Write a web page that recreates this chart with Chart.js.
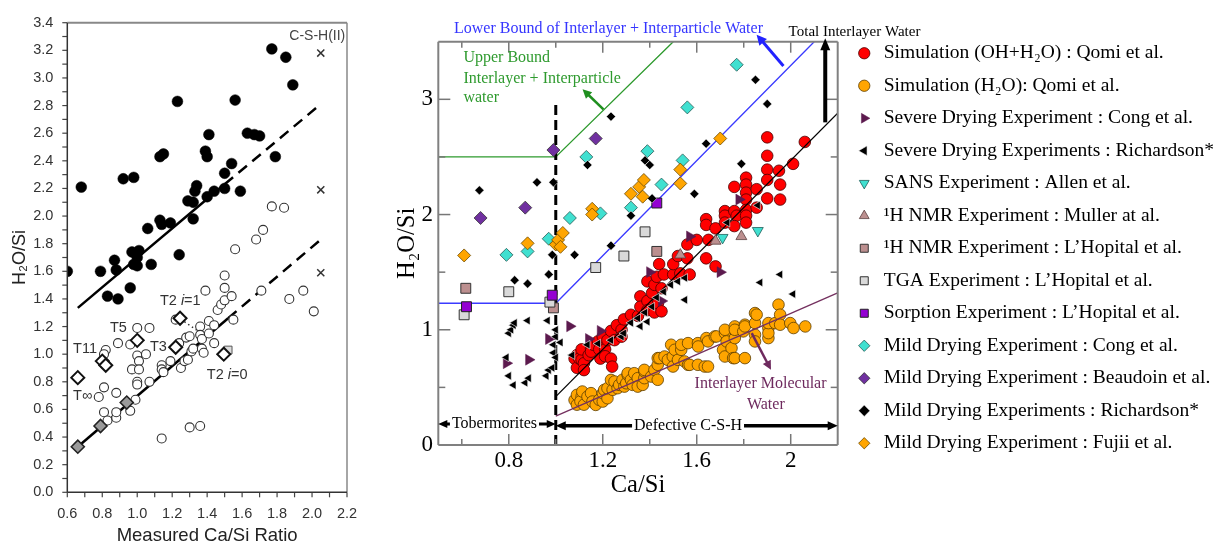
<!DOCTYPE html>
<html>
<head>
<meta charset="utf-8">
<script src="https://cdn.jsdelivr.net/npm/chart.js@4.4.1/dist/chart.umd.min.js"></script>
<style>
html,body{margin:0;padding:0;background:#fff;width:1223px;height:549px;overflow:hidden;}
#c1{position:absolute;left:0;top:0;width:380px;height:549px;}
#c2{position:absolute;left:380px;top:0;width:843px;height:549px;}
</style>
</head>
<body>
<canvas id="c1" width="380" height="549"></canvas>
<canvas id="c2" width="843" height="549"></canvas>
<script>
// ================= LEFT PANEL DATA =================
const leftXTicks  = [0.6,0.8,1.0,1.2,1.4,1.6,1.8,2.0,2.2];
const leftXLabels = ['0.6','0.8','1.0','1.2','1.4','1.6','1.8','2.0','2.2'];
const leftYTicks  = [0,0.2,0.4,0.6,0.8,1.0,1.2,1.4,1.6,1.8,2.0,2.2,2.4,2.6,2.8,3.0,3.2,3.4];
const leftYLabels = ['0.0','0.2','0.4','0.6','0.8','1.0','1.2','1.4','1.6','1.8','2.0','2.2','2.4','2.6','2.8','3.0','3.2','3.4'];
const leftXTickMarks = [0.6,0.7,0.8,0.9,1.0,1.1,1.2,1.3,1.4,1.5,1.6,1.7,1.8,1.9,2.0,2.1,2.2];
const leftYTickMarks = [0,0.1,0.2,0.3,0.4,0.5,0.6,0.7,0.8,0.9,1.0,1.1,1.2,1.3,1.4,1.5,1.6,1.7,1.8,1.9,2.0,2.1,2.2,2.3,2.4,2.5,2.6,2.7,2.8,2.9,3.0,3.1,3.2,3.3,3.4];

const leftFilledCircles = [[0.60,1.60],[0.68,2.21],[0.79,1.60],[0.83,1.42],[0.87,1.68],[0.88,1.61],[0.89,1.40],[0.92,2.27],[0.96,1.48],[0.97,1.74],[0.98,2.28],[0.98,1.65],[1.00,1.70],[1.01,1.75],[1.00,1.64],[1.06,1.91],[1.08,1.65],[1.13,1.97],[1.14,1.94],[1.13,2.43],[1.15,2.45],[1.19,1.95],[1.23,2.83],[1.24,1.72],[1.29,2.11],[1.32,2.10],[1.32,1.98],[1.33,2.18],[1.34,2.22],[1.39,2.47],[1.40,2.43],[1.41,2.59],[1.40,2.14],[1.44,2.18],[1.50,2.20],[1.50,2.31],[1.54,2.38],[1.56,2.84],[1.59,2.18],[1.63,2.60],[1.67,2.59],[1.70,2.58],[1.77,3.21],[1.79,2.43],[1.85,3.15],[1.89,2.95]];
const leftOpenCircles = [[0.78,0.69],[0.81,0.76],[0.81,0.58],[0.83,0.52],[0.82,1.03],[0.81,1.00],[0.88,0.54],[0.88,0.58],[0.88,0.72],[0.89,1.08],[0.96,1.07],[0.96,0.59],[0.99,0.67],[0.97,0.89],[1.00,1.19],[1.00,0.99],[1.01,0.95],[1.00,0.80],[1.00,0.78],[1.01,0.89],[1.05,1.00],[1.07,1.19],[1.07,0.80],[1.14,0.92],[1.14,0.89],[1.15,0.87],[1.14,0.39],[1.19,0.95],[1.22,1.25],[1.24,1.08],[1.25,0.90],[1.27,0.95],[1.29,0.96],[1.28,1.12],[1.30,1.13],[1.30,0.47],[1.31,1.02],[1.32,1.04],[1.36,0.48],[1.36,1.20],[1.36,1.14],[1.37,1.11],[1.37,1.04],[1.38,1.01],[1.39,1.46],[1.41,1.24],[1.41,1.15],[1.44,1.21],[1.44,1.08],[1.46,1.32],[1.48,1.36],[1.50,1.39],[1.50,1.48],[1.50,1.57],[1.54,1.42],[1.55,1.25],[1.56,1.76],[1.68,1.83],[1.71,1.46],[1.72,1.90],[1.77,2.07],[1.84,2.06],[1.87,1.40],[1.95,1.46],[2.01,1.31]];
const leftOpenDiamonds = [[0.66,0.83],[0.80,0.95],[0.82,0.92],[1.00,1.10],[1.22,1.05],[1.245,1.26],[1.495,1.00]];
const leftGrayDiamonds = [[0.66,0.33],[0.79,0.48],[0.94,0.65]];
const leftCrosses = [[2.05,3.18],[2.05,2.19],[2.05,1.59]];
const leftSquares = [[1.52,1.03]];
const leftUpperSolid  = [[0.66,1.335],[1.50,2.23]];
const leftUpperDashed = [[1.50,2.23],[2.04,2.80]];
const leftLowerSolid  = [[0.66,0.33],[1.52,1.26]];
const leftLowerDashed = [[1.52,1.26],[2.05,1.83]];
const leftDotted = [[1.27,1.235],[1.34,1.175]];

// ================= RIGHT PANEL DATA =================
const rightXLabelTicks = [0.8,1.2,1.6,2.0];
const rightXLabels = ['0.8','1.2','1.6','2'];
const rightXMajorMarks = [0.8,1.2,1.6,2.0];
const rightXMinorMarks = [0.6,1.0,1.4,1.8];
const rightYLabelTicks = [0,1,2,3];
const rightYLabels = ['0','1','2','3'];
const rightYMajorMarks = [1,2,3];
const rightYMinorMarks = [0.5,1.5,2.5];

const simOHH2O = [[1.08,0.75],[1.09,0.78],[1.09,0.67],[1.10,0.75],[1.11,0.74],[1.11,0.83],[1.12,0.71],[1.12,0.65],[1.14,0.78],[1.15,0.84],[1.15,0.81],[1.16,0.87],[1.18,0.90],[1.185,0.83],[1.19,0.75],[1.20,0.94],[1.21,0.83],[1.21,0.77],[1.22,0.91],[1.235,0.99],[1.235,0.75],[1.24,0.68],[1.25,0.91],[1.26,1.04],[1.28,1.00],[1.28,0.94],[1.29,1.09],[1.32,1.13],[1.35,1.12],[1.36,1.29],[1.36,1.20],[1.39,1.42],[1.39,1.25],[1.39,1.17],[1.41,1.32],[1.42,1.39],[1.42,1.15],[1.43,1.46],[1.435,1.23],[1.44,1.57],[1.45,1.36],[1.45,1.16],[1.46,1.48],[1.50,1.48],[1.50,1.57],[1.52,1.64],[1.53,1.49],[1.56,1.74],[1.56,1.62],[1.57,1.48],[1.60,1.78],[1.64,1.96],[1.64,1.91],[1.64,1.62],[1.65,1.78],[1.68,1.88],[1.68,1.55],[1.72,2.03],[1.72,1.99],[1.72,1.93],[1.76,2.24],[1.76,2.03],[1.77,1.99],[1.76,1.90],[1.81,2.32],[1.81,2.26],[1.81,2.19],[1.81,2.13],[1.81,2.04],[1.81,1.99],[1.81,1.93],[1.855,2.22],[1.855,2.06],[1.90,2.67],[1.90,2.51],[1.90,2.39],[1.90,2.30],[1.90,2.14],[1.95,2.38],[1.955,2.26],[1.955,2.13],[2.01,2.44],[2.06,2.63]];
const simH2O = [[1.08,0.39],[1.09,0.35],[1.09,0.435],[1.11,0.42],[1.105,0.38],[1.113,0.464],[1.12,0.35],[1.135,0.42],[1.15,0.45],[1.156,0.377],[1.17,0.348],[1.185,0.392],[1.20,0.377],[1.20,0.45],[1.206,0.478],[1.22,0.406],[1.22,0.493],[1.235,0.565],[1.242,0.479],[1.25,0.551],[1.263,0.493],[1.27,0.522],[1.284,0.566],[1.292,0.507],[1.30,0.536],[1.306,0.609],[1.306,0.623],[1.32,0.566],[1.327,0.522],[1.334,0.623],[1.349,0.58],[1.349,0.507],[1.37,0.522],[1.377,0.58],[1.377,0.638],[1.377,0.652],[1.406,0.594],[1.42,0.652],[1.434,0.566],[1.434,0.696],[1.434,0.754],[1.441,0.754],[1.463,0.768],[1.477,0.739],[1.491,0.87],[1.498,0.768],[1.499,0.681],[1.506,0.826],[1.52,0.739],[1.534,0.826],[1.534,0.87],[1.548,0.725],[1.563,0.884],[1.563,0.696],[1.57,0.696],[1.605,0.696],[1.605,0.884],[1.606,0.855],[1.634,0.681],[1.641,0.928],[1.648,0.899],[1.648,0.681],[1.677,0.942],[1.684,0.942],[1.712,0.826],[1.72,0.971],[1.72,1.0],[1.72,0.768],[1.727,0.899],[1.748,0.841],[1.755,0.754],[1.762,0.928],[1.762,1.029],[1.762,1.0],[1.762,0.754],[1.798,0.986],[1.805,1.044],[1.805,0.754],[1.805,1.029],[1.848,1.058],[1.848,0.957],[1.848,1.145],[1.848,0.899],[1.855,1.131],[1.905,1.015],[1.905,0.928],[1.905,0.971],[1.905,1.058],[1.934,1.058],[1.948,1.218],[1.955,1.131],[1.955,1.044],[1.998,1.058],[2.012,1.015],[2.062,1.029]];
const severeCong = [[0.79,0.71],[0.885,0.74],[0.97,0.92],[1.06,1.03],[1.14,0.92],[1.19,0.99],[1.40,1.50],[1.45,1.25],[1.57,1.81],[1.70,1.50],[1.78,2.13]];
const severeRichardson = [[0.79,0.76],[0.80,0.60],[0.80,0.97],[0.81,1.00],[0.82,1.04],[0.825,1.06],[0.82,0.52],[0.87,0.54],[0.885,0.58],[0.88,1.08],[0.96,0.60],[0.965,1.08],[0.97,0.65],[0.985,0.67],[0.99,0.80],[0.99,0.87],[1.00,0.76],[1.00,0.94],[1.00,1.00],[1.02,0.89],[1.07,0.78],[1.135,0.87],[1.18,0.88],[1.235,0.91],[1.28,0.94],[1.29,0.97],[1.32,1.06],[1.35,1.10],[1.36,1.03],[1.38,1.15],[1.39,1.07],[1.41,1.20],[1.43,1.28],[1.46,1.33],[1.49,1.39],[1.52,1.42],[1.55,1.45],[1.55,1.26],[1.73,1.93],[1.86,2.08],[1.87,1.41],[1.955,1.48],[2.01,1.31]];
const sansAllen = [[1.71,1.80],[1.86,1.86]];
const nmrMuller = [[1.53,1.65],[1.68,1.77],[1.79,1.81]];
const nmrLHopital = [[0.617,1.36],[0.99,1.19],[1.43,1.68]];
const tgaLHopital = [[0.61,1.13],[0.80,1.33],[0.975,1.24],[1.17,1.54],[1.29,1.64],[1.38,1.85]];
const sorptionLHopital = [[0.62,1.20],[0.985,1.30],[1.43,2.10]];
const mildCong = [[0.79,1.65],[0.88,1.68],[0.97,1.79],[1.06,1.97],[1.13,2.50],[1.19,2.01],[1.32,2.06],[1.39,2.55],[1.45,2.26],[1.54,2.47],[1.56,2.93],[1.77,3.30]];
const mildBeaudoin = [[0.68,1.97],[0.87,2.06],[0.99,2.56],[1.17,2.66]];
const mildRichardson = [[0.675,2.21],[0.825,1.43],[0.88,1.40],[0.92,2.28],[0.97,1.48],[0.985,1.65],[0.99,2.28],[1.08,1.65],[1.135,2.43],[1.235,2.85],[1.235,1.73],[1.32,1.99],[1.38,2.47],[1.40,2.43],[1.41,2.14],[1.59,2.18],[1.64,2.615],[1.79,2.44],[1.85,3.17],[1.90,2.96]];
const mildFujii = [[0.61,1.645],[0.88,1.75],[1.00,1.74],[1.01,1.78],[1.03,1.84],[1.02,1.72],[1.155,2.05],[1.155,2.00],[1.32,2.18],[1.355,2.24],[1.37,2.155],[1.375,2.30],[1.53,2.39],[1.53,2.27],[1.70,2.66]];

const lowerBound = [[0.5,1.23],[1.0,1.23],[2.1,3.5]];
const upperBound = [[0.5,2.5],[1.0,2.5],[1.5,3.5]];
const totalFit = [[1.0,0.42],[2.2,2.88]];
const molecularFit = [[1.0,0.25],[2.2,1.32]];
const dividerLine = [[1.0,0],[1.0,2.98]];

const legendNames = [
  'Simulation (OH+H\u2082O) : Qomi et al.',
  'Simulation (H\u2082O): Qomi et al.',
  'Severe Drying Experiment : Cong et al.',
  'Severe Drying Experiments : Richardson*',
  'SANS Experiment : Allen et al.',
  '\u00B9H NMR Experiment : Muller at al.',
  '\u00B9H NMR Experiment : L\u2019Hopital et al.',
  'TGA Experiment : L\u2019Hopital et al.',
  'Sorption Experiment : L\u2019Hopital et al.',
  'Mild Drying Experiment : Cong et al.',
  'Mild Drying Experiment : Beaudoin et al.',
  'Mild Drying Experiments : Richardson*',
  'Mild Drying Experiment : Fujii et al.'
];

// ================= HELPERS =================
const pts = a => a.map(p => ({x: p[0], y: p[1]}));

function framePlugin(spec) {
  return {
    id: 'frameTicks',
    afterDraw(chart) {
      const {ctx, chartArea: a, scales} = chart;
      ctx.save();
      spec.ticks.forEach(t => {
        ctx.strokeStyle = t.color; ctx.lineWidth = t.width;
        t.values.forEach(v => {
          ctx.beginPath();
          if (t.side === 'bottom' || t.side === 'top') {
            const px = scales.x.getPixelForValue(v);
            const y0 = t.side === 'bottom' ? a.bottom : a.top;
            const s = (t.side === 'bottom' ? -1 : 1) * (t.dir === 'in' ? 1 : -1);
            ctx.moveTo(px, y0); ctx.lineTo(px, y0 + s * t.len);
          } else {
            const py = scales.y.getPixelForValue(v);
            const x0 = t.side === 'left' ? a.left : a.right;
            const s = (t.side === 'left' ? 1 : -1) * (t.dir === 'in' ? 1 : -1);
            ctx.moveTo(x0, py); ctx.lineTo(x0 + s * t.len, py);
          }
          ctx.stroke();
        });
      });
      spec.frame.forEach(f => {
        ctx.strokeStyle = f.color; ctx.lineWidth = f.width;
        ctx.beginPath();
        if (f.side === 'top') { ctx.moveTo(a.left, a.top); ctx.lineTo(a.right, a.top); }
        if (f.side === 'bottom') { ctx.moveTo(a.left, a.bottom); ctx.lineTo(a.right, a.bottom); }
        if (f.side === 'left') { ctx.moveTo(a.left, a.top); ctx.lineTo(a.left, a.bottom); }
        if (f.side === 'right') { ctx.moveTo(a.right, a.top); ctx.lineTo(a.right, a.bottom); }
        ctx.stroke();
      });
      ctx.restore();
    }
  };
}

function head(ctx, x0, y0, x1, y1, len, half) {
  const ang = Math.atan2(y1 - y0, x1 - x0);
  const c = Math.cos(ang), s = Math.sin(ang);
  ctx.beginPath();
  ctx.moveTo(x1, y1);
  ctx.lineTo(x1 - len * c + half * s, y1 - len * s - half * c);
  ctx.lineTo(x1 - len * c - half * s, y1 - len * s + half * c);
  ctx.closePath();
  ctx.fill();
}

function annotationPlugin(spec) {
  return {
    id: 'annotations',
    afterDraw(chart) {
      const {ctx, scales: {x, y}} = chart;
      ctx.save();
      (spec.arrows || []).forEach(ar => {
        const x0 = x.getPixelForValue(ar.from[0]), y0 = y.getPixelForValue(ar.from[1]);
        const x1 = x.getPixelForValue(ar.to[0]), y1 = y.getPixelForValue(ar.to[1]);
        const ang = Math.atan2(y1 - y0, x1 - x0);
        const c = Math.cos(ang), s = Math.sin(ang);
        const L = ar.head[0];
        ctx.strokeStyle = ar.color; ctx.fillStyle = ar.color; ctx.lineWidth = ar.width;
        ctx.lineCap = 'butt';
        ctx.beginPath();
        const sx = ar.both ? x0 + c * L * 0.8 : x0, sy = ar.both ? y0 + s * L * 0.8 : y0;
        ctx.moveTo(sx, sy);
        ctx.lineTo(x1 - c * L * 0.8, y1 - s * L * 0.8);
        ctx.stroke();
        head(ctx, x0, y0, x1, y1, L, ar.head[1]);
        if (ar.both) head(ctx, x1, y1, x0, y0, L, ar.head[1]);
      });
      (spec.texts || []).forEach(t => {
        const px = x.getPixelForValue(t.x), py = y.getPixelForValue(t.y);
        const parts = t.parts || [{text: t.text}];
        let total = 0;
        parts.forEach(p => { ctx.font = (p.style ? p.style + ' ' : '') + t.font; p.w = ctx.measureText(p.text).width; total += p.w; });
        let sx = t.align === 'center' ? px - total / 2 : (t.align === 'right' ? px - total : px);
        if (t.bg) {
          ctx.fillStyle = t.bg;
          ctx.fillRect(sx - 2, py - t.size * 0.55, total + 4, t.size * 1.1);
        }
        ctx.fillStyle = t.color;
        ctx.textBaseline = 'middle';
        ctx.textAlign = 'left';
        parts.forEach(p => {
          ctx.font = (p.style ? p.style + ' ' : '') + t.font;
          ctx.fillText(p.text, sx, py);
          sx += p.w;
        });
      });
      ctx.restore();
    }
  };
}

function fixedTicks(values) {
  return function(scale) { scale.ticks = values.map(v => ({value: v})); };
}

// ================= LEFT CHART =================
const sans = '"Liberation Sans", Arial, sans-serif';
const serif = '"Liberation Serif", "Times New Roman", serif';

function lineDs(data, color, width, dash, order) {
  return {type: 'scatter', data: pts(data), showLine: true, borderColor: color, backgroundColor: color,
    borderWidth: width, borderDash: dash || [], pointRadius: 0, pointHoverRadius: 0, fill: false, tension: 0, order: order};
}

new Chart(document.getElementById('c1'), {
  type: 'scatter',
  data: {
    datasets: [
      {data: pts(leftFilledCircles), pointStyle: 'circle', pointRadius: 5.4, backgroundColor: '#000', borderColor: '#000', borderWidth: 0.5, order: 5},
      {data: pts(leftOpenCircles), pointStyle: 'circle', pointRadius: 4.5, backgroundColor: '#fff', borderColor: '#333', borderWidth: 1.1, order: 6},
      {data: pts(leftOpenDiamonds), pointStyle: 'rectRot', pointRadius: 6.5, backgroundColor: '#fff', borderColor: '#111', borderWidth: 2, order: 3},
      {data: pts(leftGrayDiamonds), pointStyle: 'rectRot', pointRadius: 6.5, backgroundColor: '#9a9a9a', borderColor: '#222', borderWidth: 1.6, order: 3},
      {data: pts(leftCrosses), pointStyle: 'crossRot', pointRadius: 5, backgroundColor: '#333', borderColor: '#333', borderWidth: 1.5, order: 3},
      {data: pts(leftSquares), pointStyle: 'rect', pointRadius: 5.5, backgroundColor: '#ddd', borderColor: '#555', borderWidth: 1, order: 4},
      lineDs(leftUpperSolid, '#000', 2.5, null, 10),
      lineDs(leftUpperDashed, '#000', 2.5, [11, 7], 10),
      lineDs(leftLowerSolid, '#000', 2.5, null, 10),
      lineDs(leftLowerDashed, '#000', 2.5, [11, 7], 10),
      lineDs(leftDotted, '#333', 1.5, [1.5, 3], 10)
    ]
  },
  options: {
    responsive: false, animation: false,
    layout: {padding: {top: 16, right: 33, left: 0, bottom: 0}},
    plugins: {legend: {display: false}, tooltip: {enabled: false}},
    scales: {
      x: {
        type: 'linear', min: 0.6, max: 2.2,
        afterBuildTicks: fixedTicks(leftXTicks),
        afterFit: s => { s.height = 56.7; },
        grid: {display: false, drawTicks: false}, border: {display: false},
        ticks: {autoSkip: false, maxRotation: 0, padding: 12.6, color: '#333', font: {family: sans, size: 14.5},
          callback: (v, i) => leftXLabels[i]},
        title: {display: true, text: 'Measured Ca/Si Ratio', color: '#222', font: {family: sans, size: 18.5}, padding: {top: 0, bottom: 1.5}}
      },
      y: {
        type: 'linear', min: 0, max: 3.4,
        afterBuildTicks: fixedTicks(leftYTicks),
        afterFit: s => { s.width = 67.3; },
        grid: {display: false, drawTicks: false}, border: {display: false},
        ticks: {autoSkip: false, padding: 14, color: '#333', font: {family: sans, size: 14.5},
          callback: (v, i) => leftYLabels[i]},
        title: {display: true, text: 'H\u2082O/Si', color: '#222', font: {family: sans, size: 18}, padding: {top: 9.2, bottom: 0}}
      }
    }
  },
  plugins: [
    framePlugin({
      ticks: [
        {side: 'bottom', dir: 'out', values: leftXTickMarks, len: 5, color: '#444', width: 1.2},
        {side: 'left', dir: 'out', values: leftYTickMarks, len: 5, color: '#444', width: 1.2}
      ],
      frame: [
        {side: 'top', color: '#888', width: 2},
        {side: 'right', color: '#888', width: 1.5},
        {side: 'left', color: '#333', width: 1.5},
        {side: 'bottom', color: '#333', width: 1.5}
      ]
    }),
    annotationPlugin({
      texts: [
        {text: 'C-S-H(II)', x: 2.03, y: 3.30, align: 'center', font: '14px ' + sans, size: 14, color: '#444'},
        {parts: [{text: 'T2 '}, {text: 'i', style: 'italic'}, {text: '=1'}], x: 1.13, y: 1.388, align: 'left', font: '14.5px ' + sans, size: 14.5, color: '#333'},
        {text: 'T5', x: 0.844, y: 1.19, align: 'left', font: '14.5px ' + sans, size: 14.5, color: '#333'},
        {text: 'T11', x: 0.633, y: 1.04, align: 'left', font: '14.5px ' + sans, size: 14.5, color: '#333'},
        {text: 'T3', x: 1.073, y: 1.052, align: 'left', font: '14.5px ' + sans, size: 14.5, color: '#333'},
        {parts: [{text: 'T2 '}, {text: 'i', style: 'italic'}, {text: '=0'}], x: 1.398, y: 0.852, align: 'left', font: '14.5px ' + sans, size: 14.5, color: '#333'},
        {text: 'T\u221E', x: 0.633, y: 0.695, align: 'left', font: '14.5px ' + sans, size: 14.5, color: '#333'}
      ]
    })
  ]
});

// ================= RIGHT CHART =================
const LEGEND_W = 385.3;
const LEGEND_LEFT = 461.5;
const LEGEND_TOP = 30.5;

const legendPlacement = {
  id: 'legendPlacement',
  beforeLayout(chart) {
    const lg = chart.legend;
    if (lg && !lg._fixedFit) {
      const orig = lg.fit;
      lg.fit = function() { orig.call(this); this.width = LEGEND_W; };
      lg._fixedFit = true;
    }
  },
  afterLayout(chart) {
    const lg = chart.legend;
    if (!lg) return;
    const w = lg.width, h = lg.height;
    lg.left = LEGEND_LEFT; lg.top = LEGEND_TOP; lg.right = LEGEND_LEFT + w; lg.bottom = LEGEND_TOP + h;
  }
};

function markerDs(label, data, style, rot, r, fill, border, bw, order) {
  return {label: label, data: pts(data), pointStyle: style, pointRotation: rot, rotation: rot, pointRadius: r, pointHoverRadius: r,
    backgroundColor: fill, borderColor: border, borderWidth: bw, order: order};
}

const NM = legendNames.length;
new Chart(document.getElementById('c2'), {
  type: 'scatter',
  data: {
    datasets: [
      markerDs(legendNames[0], simOHH2O, 'circle', 0, 5.8, '#ff0000', '#4a0000', 0.8, 50),
      markerDs(legendNames[1], simH2O, 'circle', 0, 5.8, '#ffa500', '#5c3d00', 0.8, 60),
      markerDs(legendNames[2], severeCong, 'triangle', 90, 6.3, '#5c1a4e', '#5c1a4e', 0.5, 30),
      markerDs(legendNames[3], severeRichardson, 'triangle', 270, 5, '#000', '#fff', 0.6, 29),
      markerDs(legendNames[4], sansAllen, 'triangle', 180, 6.3, '#40e0d0', '#1f5f5a', 0.8, 28),
      markerDs(legendNames[5], nmrMuller, 'triangle', 0, 6.3, '#bc8f8f', '#5a4040', 0.8, 27),
      markerDs(legendNames[6], nmrLHopital, 'rect', 0, 7, '#bc8f8f', '#333', 1, 26),
      markerDs(legendNames[7], tgaLHopital, 'rect', 0, 7, '#d9d9d9', '#333', 1, 25),
      markerDs(legendNames[8], sorptionLHopital, 'rect', 0, 7, '#9400d3', '#222', 1, 24),
      markerDs(legendNames[9], mildCong, 'rectRot', 0, 6.5, '#40e0d0', '#2a5a55', 0.8, 23),
      markerDs(legendNames[10], mildBeaudoin, 'rectRot', 0, 6.5, '#7030a0', '#333', 0.8, 22),
      markerDs(legendNames[11], mildRichardson, 'rectRot', 0, 4.6, '#000', '#fff', 0.5, 21),
      markerDs(legendNames[12], mildFujii, 'rectRot', 0, 6.5, '#ffa500', '#6b4a00', 0.8, 20),
      lineDs(lowerBound, '#3b3bff', 1.3, null, 100),
      lineDs(upperBound, '#2e9a2e', 1.3, null, 100),
      lineDs(totalFit, '#000', 1.3, null, 45),
      lineDs(molecularFit, '#74305f', 1.3, null, 45),
      lineDs(dividerLine, '#000', 3, [10, 5], 44)
    ]
  },
  options: {
    responsive: false, animation: false,
    layout: {padding: {top: 41.7, right: 0, left: 0, bottom: 0}},
    plugins: {
      tooltip: {enabled: false},
      legend: {
        display: true, position: 'right', align: 'start',
        labels: {
          usePointStyle: true, boxWidth: 19.5, boxHeight: 8, padding: 13, color: '#000',
          font: {family: serif, size: 19.5},
          filter: item => item.datasetIndex < NM,
          sort: (a, b) => a.datasetIndex - b.datasetIndex
        }
      }
    },
    scales: {
      x: {
        type: 'linear', min: 0.5, max: 2.2,
        afterBuildTicks: fixedTicks(rightXLabelTicks),
        afterFit: s => { s.height = 104; },
        grid: {display: false, drawTicks: false}, border: {display: false},
        ticks: {autoSkip: false, maxRotation: 0, padding: 2.5, color: '#000', font: {family: serif, size: 23},
          callback: (v, i) => rightXLabels[i]},
        title: {display: true, text: 'Ca/Si', color: '#000', font: {family: serif, size: 24.5}, padding: {top: 0, bottom: 49}}
      },
      y: {
        type: 'linear', min: 0, max: 3.5,
        afterBuildTicks: fixedTicks(rightYLabelTicks),
        afterFit: s => { s.width = 58.3; },
        grid: {display: false, drawTicks: false}, border: {display: false},
        ticks: {autoSkip: false, padding: 5.3, color: '#000', font: {family: serif, size: 23},
          callback: (v, i) => rightYLabels[i]},
        title: {display: true, text: 'H\u2082O/Si', color: '#000', font: {family: serif, size: 24.5}, padding: {top: 13, bottom: 0}}
      }
    }
  },
  plugins: [
    legendPlacement,
    framePlugin({
      ticks: [
        {side: 'bottom', dir: 'in', values: rightXMajorMarks, len: 11, color: '#777', width: 1.5},
        {side: 'bottom', dir: 'in', values: rightXMinorMarks, len: 6, color: '#777', width: 1.5},
        {side: 'top', dir: 'in', values: rightXMajorMarks, len: 11, color: '#777', width: 1.5},
        {side: 'top', dir: 'in', values: rightXMinorMarks, len: 6, color: '#777', width: 1.5},
        {side: 'left', dir: 'in', values: rightYMajorMarks, len: 12, color: '#777', width: 1.5},
        {side: 'left', dir: 'in', values: rightYMinorMarks, len: 7, color: '#777', width: 1.5},
        {side: 'right', dir: 'in', values: rightYMajorMarks, len: 12, color: '#777', width: 1.5},
        {side: 'right', dir: 'in', values: rightYMinorMarks, len: 7, color: '#777', width: 1.5}
      ],
      frame: [
        {side: 'top', color: '#808080', width: 2},
        {side: 'right', color: '#808080', width: 2},
        {side: 'left', color: '#808080', width: 2},
        {side: 'bottom', color: '#808080', width: 2}
      ]
    }),
    annotationPlugin({
      arrows: [
        {from: [2.147, 2.80], to: [2.147, 3.53], color: '#000', width: 4, head: [12, 5]},
        {from: [1.969, 3.29], to: [1.855, 3.56], color: '#2222ff', width: 3, head: [10, 5]},
        {from: [1.203, 2.913], to: [1.114, 3.087], color: '#1f8f1f', width: 2.5, head: [9, 4.5]},
        {from: [1.834, 0.971], to: [1.916, 0.652], color: '#6e2a5e', width: 2.5, head: [9, 4.5]},
        {from: [0.5, 0.183], to: [1.0, 0.183], both: true, color: '#000', width: 3, head: [9, 4]},
        {from: [1.0, 0.168], to: [2.2, 0.168], both: true, color: '#000', width: 3.5, head: [10, 4.5]}
      ],
      texts: [
        {text: 'Lower Bound of Interlayer + Interparticle Water', x: 0.567, y: 3.609, align: 'left', font: '16px ' + serif, size: 16, color: '#3535ff'},
        {text: 'Total Interlayer Water', x: 1.991, y: 3.585, align: 'left', font: '15px ' + serif, size: 15, color: '#000'},
        {text: 'Upper Bound', x: 0.607, y: 3.357, align: 'left', font: '16px ' + serif, size: 16, color: '#2e9a2e'},
        {text: 'Interlayer + Interparticle', x: 0.607, y: 3.174, align: 'left', font: '16px ' + serif, size: 16, color: '#2e9a2e'},
        {text: 'water', x: 0.607, y: 3.009, align: 'left', font: '16px ' + serif, size: 16, color: '#2e9a2e'},
        {text: 'Interlayer Molecular', x: 1.591, y: 0.53, align: 'left', font: '16px ' + serif, size: 16, color: '#6e2a5e'},
        {text: 'Water', x: 1.894, y: 0.348, align: 'center', font: '16px ' + serif, size: 16, color: '#6e2a5e'},
        {text: 'Tobermorites', x: 0.739, y: 0.183, align: 'center', font: '16px ' + serif, size: 16, color: '#000', bg: '#fff'},
        {text: 'Defective C-S-H', x: 1.563, y: 0.168, align: 'center', font: '16px ' + serif, size: 16, color: '#000', bg: '#fff'}
      ]
    })
  ]
});
</script>
</body>
</html>
